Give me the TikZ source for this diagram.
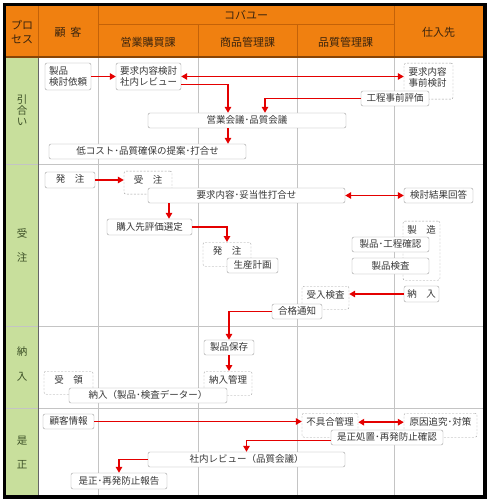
\documentclass[tikz,border=0pt]{standalone}
\usepackage{fontspec}
\setmainfont{Noto Sans CJK JP}
\usetikzlibrary{arrows.meta}

\definecolor{hdr}{RGB}{240,128,16}
\definecolor{hdrline}{RGB}{196,98,8}
\definecolor{proc}{RGB}{200,223,156}
\definecolor{procink}{RGB}{62,82,40}
\definecolor{hdrink}{RGB}{58,36,14}
\definecolor{ink}{RGB}{55,55,55}
\definecolor{grid}{RGB}{196,196,196}
\definecolor{flow}{RGB}{228,0,0}

\begin{document}
\begin{tikzpicture}[x=1pt,y=-1pt]
		\tikzstyle{hd}=[text=hdrink,font=\fontsize{11}{14}\selectfont,align=center,inner sep=0]
		\tikzstyle{pl}=[text=procink,font=\fontsize{10.5}{11}\selectfont,inner sep=0]
		\tikzstyle{box}=[draw=gray!75,fill=white,rounded corners=2pt,inner sep=0,text=ink,font=\fontsize{9.5}{11.5}\selectfont,text height=8pt,text depth=2pt,minimum height=15pt]
		\tikzstyle{box2}=[draw=gray!75,fill=white,rounded corners=2pt,inner sep=0,text=ink,font=\fontsize{9.5}{11.5}\selectfont,align=left,minimum height=27pt]
		\tikzstyle{ext}=[draw=gray!75,dash pattern=on 2pt off 1.5pt,rounded corners=2pt,fill=white,inner sep=0,anchor=north,text=ink,font=\fontsize{9.5}{11.5}\selectfont,text height=12pt]
		\tikzstyle{arr}=[draw=flow,line width=1.6pt,-{Triangle[length=6pt,width=6.5pt]}]
		\tikzstyle{arr2}=[draw=flow,line width=1.6pt,{Triangle[length=6pt,width=6.5pt]}-{Triangle[length=6pt,width=6.5pt]}]

		\useasboundingbox (0,0) rectangle (491,502);
		\fill[hdr] (6,6) rectangle (483,57);
		\fill[proc] (6,57) rectangle (38,495);

		\foreach \y in {165,326,408}
			\draw[grid,line width=1pt] (6,\y) -- (483,\y);
		\foreach \x in {98,198,297,394}
			\draw[grid,line width=1pt] (\x,57) -- (\x,495);
		\draw[gray!80!black,line width=1pt] (38,57) -- (38,495);

		\foreach \x in {38,98,394}
			\draw[hdrline,line width=1pt] (\x,6) -- (\x,57);
		\foreach \x in {198,297}
			\draw[hdrline,line width=1pt] (\x,25) -- (\x,57);
		\draw[hdrline,line width=1pt] (98,25) -- (394,25);
		\draw[hdrline!70!black,line width=1.2pt] (6,57) -- (483,57);
		\draw[black,line width=3.5pt] (4.5,4.5) rectangle (485,497);

		\node[hd] (hproc) at (22,32) {プロ\\セス};
		\node[hd] (hcust) at (68,32) {顧\hspace{5pt}客};
		\node[hd] (hcomp) at (246,15.5) {コバユー};
		\node[hd] (hsales) at (148,42) {営業購買課};
		\node[hd] (hgoods) at (247.5,42) {商品管理課};
		\node[hd] (hqual) at (345.5,42) {品質管理課};
		\node[hd] (hsupp) at (438.5,32) {仕入先};

		\foreach \t/\y [count=\i] in {引/100,合/111,い/122,受/233,注/257,納/352,入/377,是/441,正/465}
			\node[pl] (p\i) at (22,\y) {\t};

		\node[ext,text width=40pt,align=left,inner xsep=4.5pt,text depth=24pt] (pre) at (428.5,63) {要求内容\\事前検討};
		\node[ext,minimum width=48pt,text depth=11pt] (rcv) at (148,171) {受　注};
		\node[ext,minimum width=48pt,text depth=12pt] (po) at (227,242) {発　注};
		\node[ext,minimum width=37pt,text depth=47pt] (mfg) at (421.5,221) {製　造};
		\node[ext,minimum width=47pt,text depth=11pt] (acc) at (325.5,286) {受入検査};
		\node[ext,minimum width=48pt,text depth=12pt] (mng) at (228,371) {納入管理};
		\node[ext,minimum width=49pt,text depth=11pt] (got) at (68.5,371) {受　領};
		\node[ext,minimum width=56pt,text depth=12pt] (ng) at (330,413) {不具合管理};
		\node[ext,minimum width=73pt,text depth=12pt] (cause) at (440.5,413) {原因追究･対策};

		\node[box2,minimum width=46pt] (req) at (68,76.5) {製品\\検討依頼};
		\node[box2,minimum width=65pt] (rev) at (148.5,76.5) {要求内容検討\\社内レビュー};
		\node[box,minimum width=68pt] (eval) at (395,98.5) {工程事前評価};
		\node[box,minimum width=198pt] (mtg) at (247,120.5) {営業会議･品質会議};
		\node[box,minimum width=197pt] (prop) at (147.5,151.5) {低コスト･品質確保の提案･打合せ};
		\node[box,minimum width=50pt,minimum height=16pt] (ord) at (70,180) {発　注};
		\node[box,minimum width=197pt] (spec) at (246.5,195.5) {要求内容･妥当性打合せ};
		\node[box,minimum width=69pt] (ans) at (438.5,195.5) {検討結果回答};
		\node[box,minimum width=85pt,minimum height=16pt] (sel) at (149.5,227) {購入先評価選定};
		\node[box,minimum width=51pt] (plan) at (252.5,265.5) {生産計画};
		\node[box,minimum width=77pt] (chk) at (390.5,244.5) {製品･工程確認};
		\node[box,minimum width=77pt,minimum height=16pt] (insp) at (390.5,266) {製品検査};
		\node[box,minimum width=35pt,minimum height=16pt] (dlv) at (421.5,294) {納　入};
		\node[box,minimum width=50pt] (pass) at (297,311.5) {合格通知};
		\node[box,minimum width=50pt] (keep) at (229,347.5) {製品保存};
		\node[box,minimum width=158pt] (ship) at (148,395.5) {納入（製品･検査データー）};
		\node[box,minimum width=51pt] (info) at (68.5,421.5) {顧客情報};
		\node[box,minimum width=112pt] (fix) at (387,437.5) {是正処置･再発防止確認};
		\node[box,minimum width=197pt] (qrev) at (246.5,459.5) {社内レビュー（品質会議）};
		\node[box,minimum width=96pt,minimum height=16pt] (rep) at (119,481) {是正･再発防止報告};

		\draw[arr] (req.east) -- (rev.west);
		\draw[arr2] (rev.east) -- (rev.east -| pre.west);
		\draw[arr] ([yshift=-8pt]rev.east) -| ([xshift=-19pt]mtg.north);
		\draw[arr] (eval.west) -| ([xshift=18pt]mtg.north);
		\draw[arr] ([xshift=-19pt]mtg.south) -- ([xshift=-19pt]mtg.south |- prop.north);
		\draw[arr] (ord.east) -- (ord.east -| rcv.west);
		\draw[arr2] (spec.east) -- (ans.west);
		\draw[arr] ([xshift=19.5pt]sel.north |- spec.south) -- ([xshift=19.5pt]sel.north);
		\draw[arr] (sel.east) -| (po.north);
		\draw[arr] (dlv.west) -- (dlv.west -| acc.east);
		\draw[arr] (pass.west) -| (keep.north);
		\draw[arr] (keep.south) -- (keep.south |- mng.north);
		\draw[arr] (info.east) -- (info.east -| ng.west);
		\draw[arr2] ([yshift=3pt]ng.east) -- ([yshift=3pt]ng.east -| cause.west);
		\draw[arr] ([yshift=-3pt]fix.west) -| (qrev.north);
		\draw[arr] (qrev.west) -| (rep.north);
\end{tikzpicture}
\end{document}
